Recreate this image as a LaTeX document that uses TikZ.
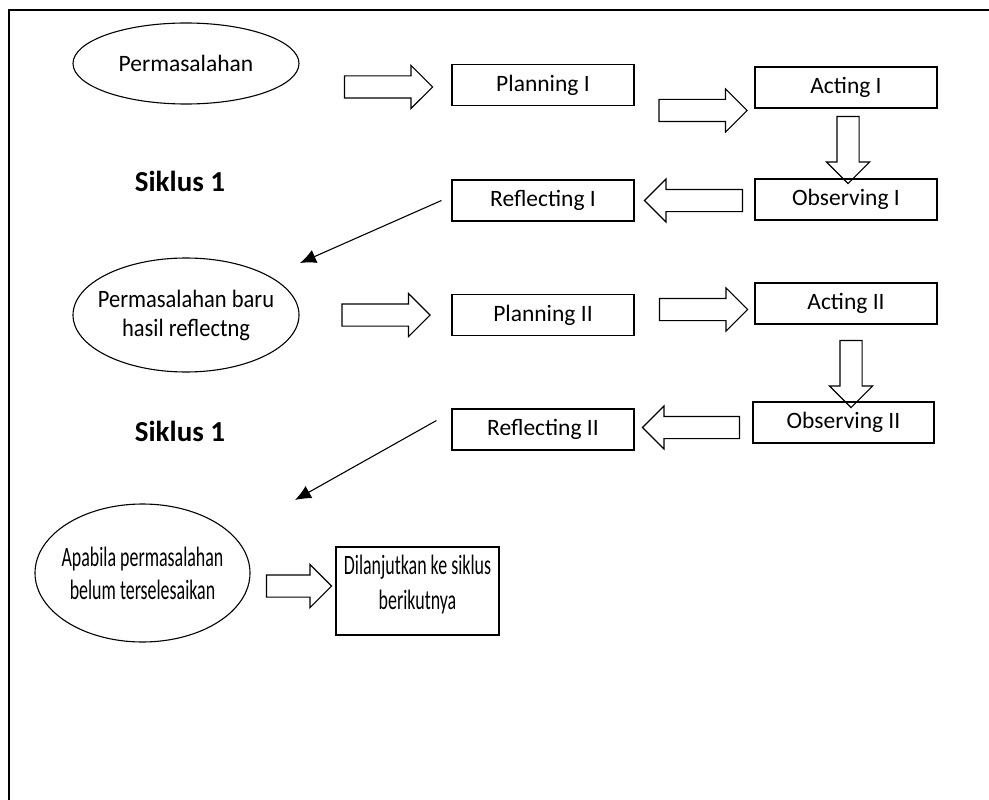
\documentclass[tikz,border=0pt]{standalone}
\usepackage{fontspec}
\setmainfont{Carlito}
\newfontfamily\midfont[FakeStretch=0.9]{Carlito}
\newfontfamily\narrowfont[FakeStretch=0.64]{Carlito}
\usetikzlibrary{shapes.geometric,shapes.arrows,arrows.meta}

\begin{document}
\begin{tikzpicture}[x=1pt, y=-1pt, font=\fontsize{23.5}{29}\selectfont, line width=1.1pt, box/.style = {draw, rectangle, minimum width=182pt, minimum height=41pt, inner sep=0pt}, oval/.style = {draw, ellipse, inner xsep=-10pt, inner ysep=0pt, align=center}, blk/.style = {draw, single arrow, inner sep=10.5pt, single arrow head extend=10.5pt, minimum height=88pt}, siklus/.style = {font=\fontsize{29}{34}\selectfont\bfseries}, line/.style = {-{Latex[length=16pt, width=14pt]}, line width=1.1pt}]
                \useasboundingbox (0,0) rectangle (989,800);
                \draw (989,10) -- (9,10) -- (9,800);
                \node[oval, minimum width=226pt, minimum height=81pt] (perm1) at (186,63.5) {Permasalahan};
                \node[box] (plan1) at (543,85) {Planning I};
                \node[box] (act1) at (846,87.5) {Acting I};
                \node[box] (obs1) at (846,199.5) {Observing I};
                \node[box] (refl1) at (543,200.5) {Reflecting I};
                \node[siklus] (sik1) at (180,181) {Siklus 1};
                \node[oval, minimum width=226pt, minimum height=114pt, font=\midfont\fontsize{25}{29}\selectfont] (perm2) at (186,315) {Permasalahan baru\\hasil reflectng};
                \node[box] (plan2) at (543,315) {Planning II};
                \node[box] (act2) at (846,303.5) {Acting II};
                \node[box, minimum width=181pt] (obs2) at (843.5,422.5) {Observing II};
                \node[box] (refl2) at (543,429.5) {Reflecting II};
                \node[siklus] (sik2) at (180,431) {Siklus 1};
                \node[oval, minimum width=215pt, minimum height=138pt, font=\narrowfont\fontsize{28}{33}\selectfont] (perm3) at (142.5,573) {Apabila permasalahan\\belum terselesaikan};
                \node[box, minimum width=163pt, minimum height=88pt, text depth=18pt, align=center, font=\narrowfont\fontsize{28}{35}\selectfont] (next) at (417.5,591) {Dilanjutkan ke siklus\\berikutnya};
                \node[blk] (a1) at (383,87) {};
                \node[blk] (a2) at (697.5,110.5) {};
                \node[blk, minimum height=67pt, shape border rotate=270] (a3) at (848,144.5) {};
                \node[blk, minimum height=98pt, shape border rotate=180] (a4) at (699,200.5) {};
                \node[blk] (a5) at (380.5,315) {};
                \node[blk] (a6) at (698,309.5) {};
                \node[blk, minimum height=67pt, shape border rotate=270] (a7) at (851,368.5) {};
                \node[blk, minimum height=97pt, shape border rotate=180] (a8) at (696.5,427.5) {};
                \node[blk, minimum height=65pt] (a9) at (293.5,586) {};
                \coordinate (in2) at (300,263);
                \coordinate (in3) at (295,500);
                \draw[line] ([xshift=-10pt]refl1.west) -- (in2);
                \draw[line] ([xshift=-15pt, yshift=9pt]refl2.west) -- (in3);
            \end{tikzpicture}
\end{document}
